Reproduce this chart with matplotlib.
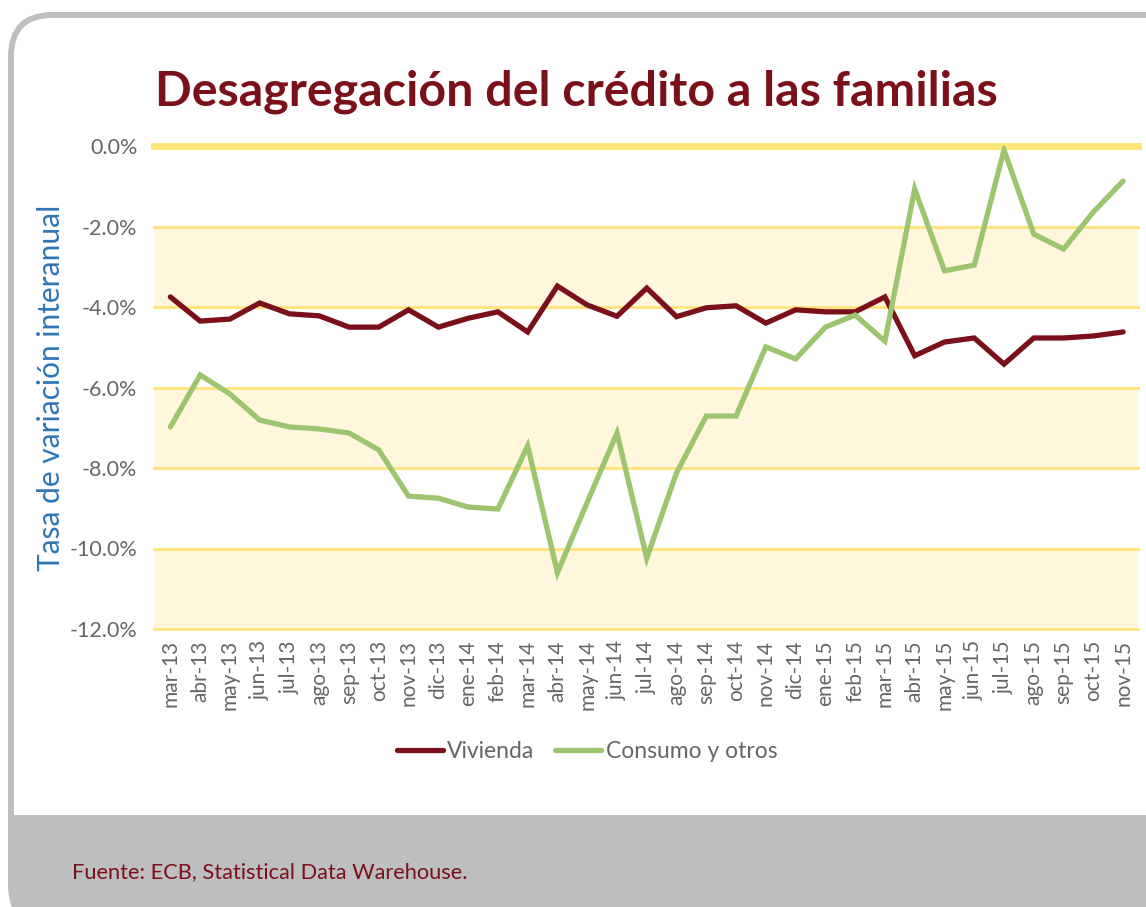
import numpy as np
import matplotlib
matplotlib.use("Agg")
import matplotlib.pyplot as plt
from matplotlib.patches import FancyBboxPatch, Rectangle
from matplotlib.transforms import IdentityTransform

# Data (tasa de variacion interanual, %)
meses = ["mar-13", "abr-13", "may-13", "jun-13", "jul-13", "ago-13", "sep-13", "oct-13",
         "nov-13", "dic-13", "ene-14", "feb-14", "mar-14", "abr-14", "may-14", "jun-14",
         "jul-14", "ago-14", "sep-14", "oct-14", "nov-14", "dic-14", "ene-15", "feb-15",
         "mar-15", "abr-15", "may-15", "jun-15", "jul-15", "ago-15", "sep-15", "oct-15",
         "nov-15"]
vivienda = [-3.75, -4.35, -4.30, -3.90, -4.17, -4.22, -4.50, -4.50, -4.07, -4.50, -4.28,
            -4.12, -4.62, -3.48, -3.95, -4.23, -3.53, -4.24, -4.02, -3.97, -4.40, -4.07,
            -4.12, -4.12, -3.75, -5.21, -4.87, -4.77, -5.42, -4.77, -4.77, -4.72, -4.62]
consumo = [-6.98, -5.69, -6.16, -6.81, -6.98, -7.03, -7.13, -7.55, -8.70, -8.75, -8.97,
           -9.02, -7.45, -10.60, -8.85, -7.13, -10.24, -8.12, -6.71, -6.71, -4.99, -5.29,
           -4.50, -4.20, -4.85, -1.07, -3.10, -2.96, -0.10, -2.19, -2.56, -1.64, -0.87]
yticks = [0, -2, -4, -6, -8, -10, -12]

plt.rcParams['font.family'] = ['Lato', 'DejaVu Sans']

W, H = 1146, 907
fig = plt.figure(figsize=(W / 100, H / 100), dpi=100)
fig.patch.set_facecolor("white")

gray = "#BDBEC0"
txt_gray = "#666666"
def px(x, y_top):
    return x, H - y_top

# frame: gray rounded box, white panel, gray footer band (behind the axes)
fig.patches.append(FancyBboxPatch(px(8, 930), 1300, 918, boxstyle="round,pad=0,rounding_size=45",
                                  facecolor=gray, edgecolor="none", zorder=-3,
                                  transform=IdentityTransform()))
fig.patches.append(FancyBboxPatch(px(14, 860), 1300, 842, boxstyle="round,pad=0,rounding_size=38",
                                  facecolor="white", edgecolor="none", zorder=-2,
                                  transform=IdentityTransform()))
fig.patches.append(Rectangle(px(14, 930), 1300, 115, facecolor=gray, edgecolor="none", zorder=-1,
                             transform=IdentityTransform()))

ax = fig.add_axes([154 / W, 1 - 629 / H, (1138 - 154) / W, (629 - 146) / H])
ax.set_facecolor("none")
x = np.arange(len(meses))

# alternating bands and yellow gridlines
for lo in [-4, -8, -12]:
    ax.axhspan(lo, lo + 2, color="#FFF7DD", zorder=0, lw=0)
for t in yticks:
    ax.axhline(t, color="#FFE477", lw=5 if t == 0 else 2, zorder=1, clip_on=False)

ax.plot(x, vivienda, color="#7A1019", lw=3.8, label="Vivienda", zorder=3,
        solid_joinstyle="miter", solid_capstyle="round")
ax.plot(x, consumo, color="#9DC46F", lw=3.8, label="Consumo y otros", zorder=3,
        solid_joinstyle="miter", solid_capstyle="round")

ax.set_xlim(-0.55, 32.5)
ax.set_ylim(-12, 0)
ax.set_yticks(yticks)
ax.set_yticklabels([f"{t:.1f}%" for t in yticks], fontsize=15.5, color=txt_gray)
ax.set_xticks(x)
ax.set_xticklabels(meses, rotation=90, fontsize=15, color=txt_gray)
ax.tick_params(length=0, pad=8)
ax.tick_params(axis="y", pad=12)
for s in ax.spines.values():
    s.set_visible(False)

ax.set_ylabel("Tasa de variación interanual", fontsize=21.5, color="#2E75B6", labelpad=3)

fig.text(155 / W, 1 - 105 / H, "Desagregación del crédito a las familias", fontsize=34.8,
         fontweight="bold", color="#7A1019", va="baseline", ha="left")

leg = fig.legend(loc="center", bbox_to_anchor=(587 / W, 1 - 752 / H), ncol=2, frameon=False,
                 fontsize=16.5, handlelength=2.0, columnspacing=0.9, handletextpad=0.2)
for t in leg.get_texts():
    t.set_color(txt_gray)

fig.text(72 / W, 1 - 872 / H, "Fuente: ECB, Statistical Data Warehouse.", fontsize=15.7,
         color="#7A1019", va="center", ha="left")

fig.savefig("out.png", dpi=100)
